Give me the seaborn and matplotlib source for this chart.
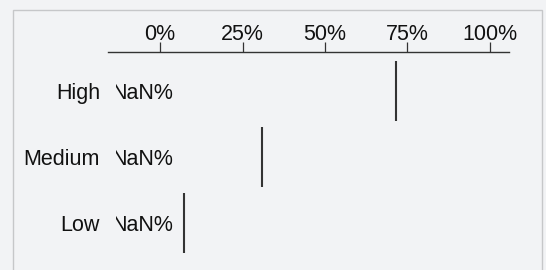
import numpy as np
import pandas as pd
import seaborn as sns
import matplotlib.pyplot as plt
from matplotlib.patches import Rectangle
from matplotlib.transforms import Bbox, TransformedBbox

categories = ["High", "Medium", "Low"]
values = [71.6, 30.8, 7.4]
value_labels = ["NaN%", "NaN%", "NaN%"]
ticks = [0, 25, 50, 75, 100]
tick_labels = ["0%", "25%", "50%", "75%", "100%"]

BG = "#f2f3f5"
INK = "#111111"
FS = 15.5

sns.set_style("white")
plt.rcParams["font.family"] = ["Liberation Sans", "DejaVu Sans"]

df = pd.DataFrame({"category": categories, "value": values})

fig = plt.figure(figsize=(5.46, 2.7), dpi=100, facecolor=BG)
ax = fig.add_axes([108 / 546, 0, 401 / 546, 1 - 52 / 270])
ax.set_facecolor(BG)

# panel frame
fig.patches.append(Rectangle((12.5 / 546, -0.1), 529 / 546, 1.1 - 9.5 / 270,
                             transform=fig.transFigure, fill=False,
                             edgecolor="#c6c7c9", linewidth=1.0))

sns.scatterplot(data=df, x="value", y="category", marker="|", s=1806,
                color="#333333", linewidth=1.5, ax=ax, legend=False)

ax.set_xlim(-15.76, 105.76)
ax.set_ylim(2.705, -0.598)

ax.xaxis.set_ticks_position("top")
ax.xaxis.set_label_position("top")
ax.set_xticks(ticks)
ax.set_xticklabels(tick_labels)
ax.tick_params(axis="x", direction="out", length=7.2, width=0.9, color="#333333",
               pad=-2.2, labelsize=FS, labelcolor=INK)
ax.set_yticks(range(len(categories)))
ax.set_yticklabels(categories)
ax.tick_params(axis="y", length=0, pad=5.8, labelsize=FS, labelcolor=INK)

for side in ["left", "right", "bottom"]:
    ax.spines[side].set_visible(False)
ax.spines["top"].set_color("#333333")
ax.spines["top"].set_linewidth(1.0)
ax.set_xlabel("")
ax.set_ylabel("")

# value labels are cut off on the left, like in the original
clip = TransformedBbox(Bbox([[115.5 / 546, 0], [1, 1]]), fig.transFigure)
for i, lab in enumerate(value_labels):
    t = ax.text(3.9, i, lab, ha="right", va="center_baseline", fontsize=FS, color=INK)
    t.set_clip_box(clip)
    t.set_clip_on(True)

fig.savefig("out.png", dpi=100, facecolor=BG)
